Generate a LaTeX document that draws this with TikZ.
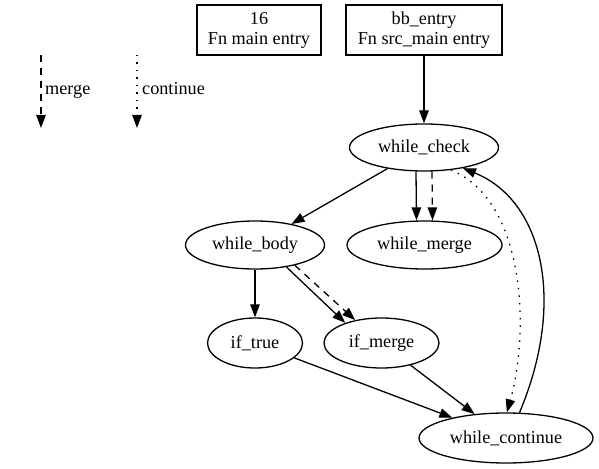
\documentclass[tikz,border=0pt]{standalone}
\usepackage{fontspec}
\setmainfont{Liberation Serif}
\usetikzlibrary{shapes.geometric,arrows.meta}
\begin{document}
\begin{tikzpicture}[x=1bp,y=-1bp,
  every node/.style={font=\fontsize{18.2bp}{20bp}\selectfont},
  box/.style={draw,line width=1.3bp,rectangle,align=center,minimum height=50bp,inner sep=0pt},
  ell/.style={draw,line width=1.3bp,ellipse,inner sep=0pt,minimum height=48bp},
  edge/.style={line width=1.3bp,-{Triangle[length=13bp,width=9.5bp]}},
  mergeline/.style={dash pattern=on 7bp off 6bp},
  contline/.style={dash pattern=on 1.5bp off 6bp}]
\useasboundingbox (0,0) rectangle (599,469);
% nodes
\node[box,minimum width=124bp] (fm) at (259,30) {16\\Fn main entry};
\node[box,minimum width=156bp] (bb) at (424,30) {bb\_entry\\Fn src\_main entry};
\node[ell,minimum width=149bp,minimum height=47bp] (wc) at (424,147.5) {while\_check};
\node[ell,minimum width=139bp] (wb) at (255,245) {while\_body};
\node[ell,minimum width=155bp] (wm) at (424.5,245) {while\_merge};
\node[ell,minimum width=95bp,minimum height=50bp] (it) at (255,343) {if\_true};
\node[ell,minimum width=115bp,minimum height=50bp] (im) at (381.5,343) {if\_merge};
\node[ell,minimum width=174bp,minimum height=50bp] (wk) at (506,438) {while\_continue};
% legend
\coordinate (m1) at (41,55);
\coordinate (m2) at (41,128);
\coordinate (c1) at (137,55);
\coordinate (c2) at (137,128);
\draw[edge,mergeline] (m1) -- (m2);
\draw[edge,contline] (c1) -- (c2);
\node[anchor=base west,inner sep=0pt] (ml) at (45,95) {merge};
\node[anchor=base west,inner sep=0pt] (cl) at (142,95) {continue};
% edges
\draw[edge] (bb) -- (wc);
\draw[edge] (wc) -- (wb);
\draw[edge] ([xshift=-8bp]wc.south) -- ([xshift=-8bp]wm.north);
\draw[edge,mergeline] ([xshift=8bp]wc.south) -- ([xshift=8bp]wm.north);
\draw[edge] (wb) -- (it);
\draw[edge] (wb.-35) -- (im.151);
\draw[edge,mergeline] (wb.-27) -- (im.139);
\draw[edge] (it) -- (wk);
\draw[edge] (im) -- (wk);
\draw[edge,contline] (wc.-40) .. controls (525,200) and (530,330) .. (wk.88);
\draw[edge] (wk.62) .. controls (567,300) and (542,200) .. (wc.-28);
\end{tikzpicture}
\end{document}
